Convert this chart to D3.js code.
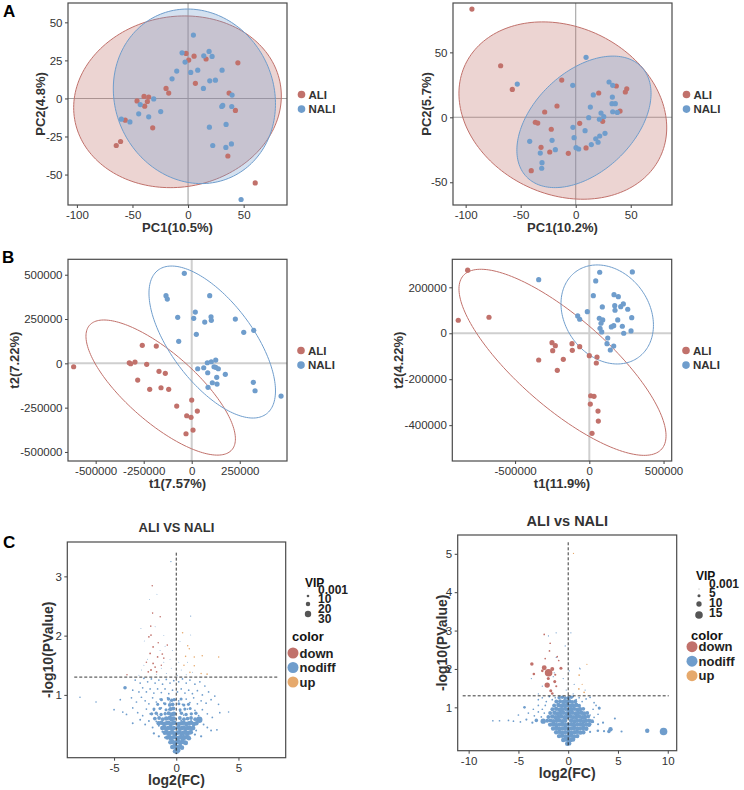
<!DOCTYPE html>
<html>
<head>
<meta charset="utf-8">
<script src="https://cdn.jsdelivr.net/npm/d3@7"></script>
<style>
body { margin: 0; background: #fff; }
svg { font-family: "Liberation Sans", Arial, sans-serif; }
</style>
</head>
<body>
<div id="fig"></div>
<script>
var red = "#c1716b", blue = "#6f9dcc", orange = "#e6a96c";
var groups = ["ALI", "NALI"];

// ---- PCA (A) scores ----
var pcaA1ALI = [[-1.8,29.6],[0.6,25.2],[5.4,27.8],[16.2,25.9],[44.8,23.4],[6.6,9.9],[-19.8,6.6],[-17.4,3.5],[-39.6,1.3],[-35.4,0.9],[-45.9,-1.6],[-36.6,-2],[-39,-5.1],[36.9,3.5],[42.6,-7.9],[-31.8,-19.3],[-56.5,-14.3],[-60.7,-28.3],[-64.6,-30.9],[35.8,-37.8],[60.4,-55.5]];
var pcaA1NALI = [[4.8,41.6],[-5.4,30],[-2.7,23.9],[-10.2,18],[-14.4,12.9],[2.4,17.1],[8.7,18.6],[14.1,28],[18.9,30.9],[21.6,27.6],[30.6,18.6],[19.5,11.6],[24.6,12],[13.8,6.6],[39.6,2.2],[31.2,-4.6],[30.3,-5.3],[39.3,-5.3],[34.2,-17.1],[19.2,-18.9],[22.2,-30.9],[34,-32.2],[39,-29.9],[-30.9,-0.3],[-43,-4],[-44.4,-10.1],[-35.4,-12.1],[-24.6,-8.6],[-60,-13.6],[-52.3,-15.4],[47.7,-66.4]];
var pcaA2ALI = [[-94.3,83.3],[-68.2,39.7],[-57.6,21.5],[-12.7,28.7],[-17,8.7],[-28.2,4.1],[-36.7,-3.8],[-34.5,-4.4],[-22.2,-9.2],[3.6,-4.6],[24.5,-3.1],[20.9,18.7],[36.9,24.1],[46.4,22],[45.1,19.5],[40.3,4.8],[-31.5,-23.1],[-23.6,-26.7],[-6.7,-27.7],[9.4,-23.6],[-40.4,-41.1]];
var pcaA2NALI = [[-53.1,25.6],[9.4,46.2],[-2.7,24.6],[16,17.2],[13.3,7.9],[30.3,27.2],[33.6,24.6],[33.3,15.6],[33,10.5],[36,10.5],[33.6,4.3],[37.8,3.8],[23,3.3],[25.5,0.5],[21.5,-1.5],[11.8,-0.3],[-2.5,-7.7],[8.5,-10.3],[-1.5,-15.7],[26.6,-12.3],[18.2,-16.5],[21.8,-14.4],[20.3,-19.2],[14.2,-21],[0.3,-23.4],[2.7,-24.4],[-21.5,-17.7],[-18.5,-24.9],[-41.8,-18.5],[-32.2,-27.5],[-30.6,-34.9],[-30.9,-39.2]];

// ---- OPLS-DA (B) scores ----
var plsB1ALI = [[-614600,-19200],[-257300,101600],[-184400,97600],[-325000,3400],[-317700,-2300],[-295300,7300],[-234400,-5600],[-281200,-94200],[-218700,-146700],[-170300,-45100],[-137500,-56400],[-159900,-137700],[-119800,-146700],[-78100,-240900],[0,-207100],[-26000,-295700],[-3600,-304700],[29200,-269200],[-29700,-397300],[6800,-376400]];
var plsB1NALI = [[-38500,508000],[-133800,381500],[-127000,362800],[-72900,259600],[-67700,124100],[10400,253900],[18700,289500],[93700,381500],[67700,233000],[100500,263000],[102100,242600],[227100,250000],[270800,174900],[322900,186200],[24000,163600],[31200,-30500],[62500,-24800],[81200,3400],[102100,9000],[125000,18600],[116100,-19200],[125000,-22600],[138500,-30500],[83300,-53000],[130200,-79000],[175000,-62100],[107300,-109500],[131800,-116800],[84900,-135400],[320800,-107200],[329700,-154600],[465100,-184500]];
var plsB2ALI = [[-819500,274500],[-882800,56600],[-675900,69700],[-251400,-41000],[-229100,-54000],[-246600,-75800],[-341000,-116300],[-215700,-161200],[-175200,-113300],[-116600,-45300],[-114600,-74100],[-64700,-58400],[0,-97600],[51900,-103300],[47200,-129400],[9400,-271900],[31700,-274500],[6700,-308000],[58600,-338500],[60700,-382100],[18200,-435700]];
var plsB2NALI = [[-341000,233500],[70100,265700],[289800,267100],[43100,227900],[27000,163800],[166500,168200],[195400,159500],[87600,114600],[-13500,94100],[171200,120300],[173200,100200],[211600,115900],[229100,127700],[258800,104600],[285700,68000],[-78200,75400],[-64700,61000],[67400,65400],[90300,58000],[78800,43600],[191400,58000],[72100,21800],[83600,5700],[148300,27500],[164400,33100],[222400,30500],[231800,0],[281000,10000],[124000,-20500],[119300,-45300],[164400,-55300],[141500,-72800]];

// confidence ellipses: centre x, centre y, then two conjugate semi-axis vectors
var ellA1 = [[-9.5,-2.2,92.5,11.6,12.9,-55.2],[5.7,1.4,32.9,-53.2,-65.1,-21.4]];
var ellA2 = [[-11.7,5.2,88.6,-35.5,-32.6,-58.3],[7.5,-3.5,52.2,42.3,31.5,-27.8]];
var ellB1 = [[-161500,-136600,370300,-351600,-119100,-147300],[106800,120200,281800,-405700,-170300,-138800]];
var ellB2 = [[-180600,-126400,668500,-377300,-198800,-147300],[120600,81900,210900,-186500,-229100,-108100]];

// ---- volcano (C): [log2FC, -log10P, VIP] ----
var volC1Nodiff = [[-0.43,3.25,3],[-1.55,2.7,1],[-2.14,2.61,1],[1.16,2.33,2],[-2.84,2.12,1],[-1.7,2.15,1],[-1.0,2.0,1],[1.16,2.01,1],[-2.57,1.91,1],[-0.9,1.82,1],[-1.3,1.75,1],[-0.3,1.75,1],[0.3,1.9,1],[-2.3,1.6,1],[-2.6,1.5,1],[-1.0,1.55,1],[-0.5,1.6,1],[0.2,1.55,1],[0.9,1.55,1],[-2.8,1.42,1],[-1.2,1.45,1],[-0.4,1.45,1],[0.4,1.42,1],[1.3,1.38,1],[-3.0,1.33,1],[-1.6,1.35,1],[-0.8,1.36,1],[0.1,1.33,1],[0.8,1.34,1],
  [-3.3,1.25,5],[-2.9,1.2,5],[-2.6,1.28,5],[-2.3,1.22,5],[-2.0,1.27,5],[-1.7,1.2,5],[-1.4,1.25,5],[-1.1,1.18,5],[-0.8,1.26,5],[-0.5,1.2,5],[-0.2,1.24,5],[0.2,1.22,5],[0.5,1.27,5],[0.8,1.2,5],[1.1,1.25,5],[1.5,1.18,5],[1.9,1.22,5],[2.3,1.15,5],
  [-3.5,1.08,5],[-3.0,1.05,5],[-2.7,1.12,5],[-2.4,1.05,5],[-2.1,1.1,5],[-1.8,1.03,5],[-1.5,1.1,5],[-1.2,1.04,5],[-0.9,1.1,5],[-0.6,1.02,5],[-0.3,1.08,5],[0.1,1.05,5],[0.4,1.1,5],[0.7,1.03,5],[1.0,1.08,5],[1.3,1.02,5],[1.7,1.07,5],[2.1,1.0,5],[2.6,1.05,5],[3.1,0.98,5],
  [-4.5,0.92,5],[-3.6,0.95,5],[-3.2,0.88,5],[-2.8,0.96,5],[-2.5,0.9,5],[-2.2,0.85,5],[-1.9,0.95,5],[-1.6,0.88,5],[-1.3,0.93,5],[-1.0,0.86,5],[-0.7,0.95,5],[-0.5,0.88,5],[-0.2,0.92,5],[0.2,0.9,5],[0.5,0.84,5],[0.8,0.93,5],[1.1,0.87,5],[1.4,0.95,5],[1.7,0.85,5],[2.0,0.9,5],[2.4,0.86,5],[2.8,0.92,5],[3.4,0.84,5],
  [-7.74,0.96,4],[-6.45,0.88,4],[-5.0,0.75,5],[-4.3,0.71,5],[-4.0,0.67,5],[-3.5,0.78,5],[-3.1,0.7,5],[-2.7,0.65,5],[-2.4,0.76,5],[-2.1,0.68,5],[-1.8,0.74,5],[-1.5,0.66,5],[-1.2,0.78,5],[-0.9,0.7,5],[-0.6,0.75,5],[-0.3,0.68,5],[0.3,0.72,5],[0.6,0.66,5],[0.9,0.76,5],[1.2,0.68,5],[1.5,0.74,5],[1.8,0.65,5],[2.1,0.75,5],[2.5,0.68,5],[2.9,0.62,5],[3.5,0.7,5],[4.21,0.71,4],
  [-3.5,0.52,6],[-2.9,0.58,6],[-2.5,0.5,6],[-2.2,0.56,6],[-1.9,0.45,6],[-1.6,0.55,6],[-1.4,0.48,6],[-1.1,0.58,6],[-0.9,0.44,6],[-0.6,0.52,6],[-0.4,0.58,6],[-0.2,0.45,6],[0.2,0.5,6],[0.4,0.57,6],[0.6,0.45,6],[0.8,0.53,6],[1.0,0.42,6],[1.2,0.56,6],[1.4,0.48,6],[1.6,0.4,6],[2.2,0.5,6],[2.5,0.45,6],[2.8,0.4,6],[3.27,0.41,6],
  [-1.8,0.35,8],[-1.4,0.3,8],[-1.1,0.38,8],[-0.9,0.28,8],[-0.7,0.34,8],[-0.5,0.25,8],[-0.35,0.38,8],[-0.2,0.3,8],[0.15,0.28,8],[0.3,0.36,8],[0.45,0.25,8],[0.6,0.32,8],[0.8,0.38,8],[1.0,0.3,8],[1.2,0.36,8],[1.5,0.33,8],[2.0,0.3,8],
  [-0.1,0.05,20],[0.04,0.04,20],[0.16,0.06,20],
  [-0.32,0.12,20],[-0.16,0.13,20],[0.02,0.11,20],[0.17,0.12,20],[0.31,0.13,20],[0.46,0.11,20],
  [-0.47,0.2,20],[-0.31,0.21,20],[-0.14,0.19,20],[0.03,0.2,20],[0.16,0.21,20],[0.32,0.19,20],[0.47,0.21,20],[0.62,0.2,20],[0.77,0.19,20],
  [-0.72,0.28,20],[-0.56,0.29,20],[-0.41,0.27,20],[-0.26,0.28,20],[-0.09,0.29,20],[0.11,0.27,20],[0.26,0.28,20],[0.41,0.29,20],[0.56,0.27,20],[0.71,0.28,20],[0.87,0.29,20],[1.02,0.27,20],
  [-0.92,0.36,20],[-0.77,0.37,20],[-0.61,0.35,20],[-0.46,0.36,20],[-0.31,0.37,20],[-0.16,0.35,20],[0.09,0.36,20],[0.24,0.37,20],[0.41,0.35,20],[0.56,0.36,20],[0.71,0.37,20],[0.86,0.35,20],[1.01,0.36,20],[1.17,0.37,20],
  [-1.12,0.44,20],[-0.96,0.45,20],[-0.81,0.43,20],[-0.64,0.44,20],[-0.49,0.45,20],[-0.34,0.43,20],[-0.19,0.44,20],[0.16,0.45,20],[0.31,0.43,20],[0.46,0.44,20],[0.61,0.45,20],[0.76,0.43,20],[0.91,0.44,20],[1.06,0.45,20],[1.21,0.43,20],[1.36,0.44,20],
  [-1.41,0.52,20],[-1.19,0.53,20],[-0.98,0.51,20],[-0.79,0.52,20],[-0.61,0.53,20],[-0.44,0.51,20],[-0.29,0.52,20],[-0.14,0.53,20],[0.21,0.51,20],[0.42,0.52,20],[0.59,0.53,20],[0.81,0.51,20],[1.02,0.52,20],[1.19,0.53,20],[1.41,0.51,20],[1.62,0.52,20],
  [-1.72,0.6,16],[-1.38,0.61,16],[-1.09,0.59,16],[-0.81,0.6,20],[-0.52,0.61,20],[-0.36,0.59,20],[-0.21,0.6,20],[0.29,0.61,16],[0.62,0.59,16],[0.91,0.6,16],[1.19,0.61,16],[1.52,0.59,16],
  [-1.98,0.68,14],[-1.61,0.69,14],[-1.22,0.67,14],[-0.89,0.68,14],[-0.61,0.69,18],[-0.39,0.67,20],[-0.19,0.68,20],[0.42,0.69,14],[0.79,0.67,14],[1.21,0.68,14],[1.58,0.69,14],
  [-1.79,0.76,12],[-1.31,0.77,12],[-0.82,0.75,12],[-0.46,0.76,18],[-0.24,0.77,18],[0.31,0.75,12],[0.69,0.76,12],[1.12,0.77,12],
  [-1.49,0.84,12],[-0.91,0.85,12],[-0.52,0.83,16],[-0.29,0.84,16],[0.21,0.85,12],[0.61,0.83,12],[0.98,0.84,12],
  [-1.19,0.92,12],[-0.62,0.93,14],[-0.36,0.91,14],[-0.16,0.92,14],[0.39,0.93,12],
  [-4.12,1.12,15],[1.85,0.58,30]];
var volC1Down = [[-1.93,2.84,4],[-1.9,2.38,4],[-1.29,2.32,4],[-2.05,2.16,4],[-2.03,2.01,5],[-2.2,1.98,5],[-1.86,1.81,5],[-0.72,1.84,4],[-1.5,1.64,5],[-1.12,1.69,5],[-1.86,1.53,5],[-2.03,1.42,6],[-1.58,1.39,5],[-2.25,1.39,5],[-3.96,1.34,4],[-1.2,1.5,4],[-2.4,1.55,4],[-1.7,1.47,5],[-1.0,1.62,4],[-1.45,1.88,4],[-2.1,1.7,5]];
var volC1Up = [[0.51,2.05,4],[0.92,1.83,4],[1.05,1.78,4],[0.75,1.65,4],[1.45,1.64,4],[2.09,1.66,4],[3.41,1.64,4],[0.62,1.5,4],[1.45,1.49,4],[2.0,1.36,4],[2.48,1.35,4],[1.1,1.38,4]];

var volC2Nodiff = [[-1.98,2.86,1],[-1.21,2.94,1],[0.27,2.94,1],[-1.2,2.3,1],[-0.3,2.6,1],[1.2,2.0,1],[1.14,2.02,1],[0.1,1.95,1],[-1.5,1.8,1],[-0.5,1.75,1],[0.6,1.6,1],[-2.6,1.55,1],[-0.2,1.45,1],[1.7,1.45,1],[-3.0,1.35,1],[0.5,1.35,1],[-1.4,1.9,1],[-3.7,1.75,1],
  [-3.0,1.2,2],[-2.6,1.25,2],[-2.2,1.15,2],[-1.9,1.28,2],[-1.6,1.2,2],[-1.3,1.25,2],[-1.0,1.15,2],[-0.7,1.27,2],[-0.4,1.2,2],[-0.1,1.25,2],[0.2,1.15,2],[0.5,1.28,2],[0.8,1.2,2],[1.1,1.25,2],[1.4,1.15,2],[1.8,1.22,2],[2.2,1.26,2],[2.6,1.12,2],
  [-4.39,1.0,4],[-3.5,0.95,2],[-3.0,1.05,2],[-2.6,0.95,2],[-2.3,1.05,2],[2.5,0.95,2],[3.12,0.98,5],[2.8,1.05,2],
  [-5.0,0.8,2],[-4.0,0.85,2],[-3.4,0.78,2],[-3.0,0.88,2],[-2.7,0.75,2],[-2.4,0.85,2],[2.2,0.8,2],[2.6,0.74,2],[3.0,0.82,2],[4.69,0.71,3],
  [-7.57,0.65,2],[-6.9,0.65,2],[-6.0,0.66,2],[-5.5,0.64,2],[-4.8,0.62,2],[-4.2,0.68,3],[-3.6,0.6,3],[-3.2,0.66,6],[-2.51,0.64,10],[2.08,0.54,7],[2.5,0.62,3],[3.0,0.56,3],[3.5,0.6,3],
  [2.2,0.36,3],[2.98,0.39,4],[3.6,0.38,3],[4.25,0.43,8],[4.09,0.37,6],[5.36,0.37,3],[7.94,0.39,8],[9.58,0.37,15],
  [-0.1,0.05,8],[0.1,0.06,8],
  [-0.5,0.15,8],[-0.24,0.16,8],[0.02,0.14,8],[0.26,0.15,8],[0.49,0.16,8],
  [-0.92,0.25,8],[-0.61,0.26,8],[-0.29,0.24,8],[0.01,0.25,8],[0.31,0.26,8],[0.59,0.24,8],[0.91,0.25,8],
  [-1.21,0.35,8],[-0.89,0.36,8],[-0.62,0.34,8],[-0.31,0.35,8],[0.02,0.36,8],[0.29,0.34,8],[0.61,0.35,8],[0.88,0.36,8],[1.21,0.34,8],[1.52,0.35,8],
  [-1.52,0.45,8],[-1.19,0.46,8],[-0.91,0.44,8],[-0.59,0.45,8],[-0.31,0.46,8],[0.01,0.44,8],[0.32,0.45,8],[0.59,0.46,8],[0.91,0.44,8],[1.19,0.45,8],[1.51,0.46,8],[1.82,0.44,8],
  [-1.81,0.55,8],[-1.49,0.56,8],[-1.21,0.54,8],[-0.89,0.55,8],[-0.61,0.56,8],[-0.29,0.54,8],[0.02,0.55,8],[0.31,0.56,8],[0.59,0.54,8],[0.91,0.55,8],[1.22,0.56,8],[1.49,0.54,8],[1.81,0.55,8],[2.12,0.56,8],
  [-2.11,0.65,7],[-1.79,0.66,7],[-1.51,0.64,8],[-1.19,0.65,8],[-0.91,0.66,8],[-0.59,0.64,8],[-0.31,0.65,8],[0.29,0.66,8],[0.61,0.64,8],[0.89,0.65,8],[1.21,0.66,8],[1.52,0.64,8],[1.79,0.65,8],[2.11,0.66,7],[2.39,0.64,7],
  [-1.99,0.75,7],[-1.61,0.76,8],[-1.29,0.74,8],[-0.99,0.75,8],[-0.71,0.76,8],[-0.39,0.74,8],[-0.11,0.75,8],[0.21,0.76,8],[0.49,0.74,8],[0.81,0.75,8],[1.09,0.76,8],[1.41,0.74,8],[1.69,0.75,8],[2.01,0.76,7],
  [-1.81,0.85,7],[-1.39,0.86,8],[-1.11,0.84,8],[-0.79,0.85,8],[-0.51,0.86,8],[-0.19,0.84,8],[0.11,0.85,8],[0.39,0.86,8],[0.71,0.84,8],[0.99,0.85,8],[1.31,0.86,8],[1.59,0.84,8],[1.91,0.85,7],
  [-1.59,0.95,7],[-1.21,0.96,8],[-0.89,0.94,8],[-0.61,0.95,8],[-0.29,0.96,8],[0.01,0.94,8],[0.31,0.95,8],[0.59,0.96,8],[0.91,0.94,8],[1.19,0.95,8],[1.51,0.96,7],
  [-1.41,1.05,7],[-0.99,1.06,8],[-0.71,1.04,8],[-0.39,1.05,8],[-0.11,1.06,8],[0.21,1.04,8],[0.49,1.05,8],[0.81,1.06,8],[1.09,1.04,7],
  [-1.19,1.15,7],[-0.81,1.16,7],[-0.49,1.14,8],[-0.21,1.15,8],[0.11,1.16,8],[0.39,1.14,7],[0.71,1.15,7],
  [-0.91,1.25,6],[-0.59,1.26,6],[-0.29,1.24,6],[0.02,1.25,6],[0.31,1.26,6]];
var volC2Down = [[-2.41,2.9,2],[-1.81,2.67,2],[-1.88,2.47,2],[-1.1,2.32,2],[-0.95,2.22,2],[-2.31,2.27,2],[-3.65,2.13,6],[-2.41,2.03,9],[-1.97,1.9,15],[-1.6,2.0,7],[-0.73,2.02,5],[-3.45,1.87,4],[-2.11,1.58,10],[-1.35,1.67,5],[-1.75,1.43,5],[-1.6,1.36,4],[-1.2,1.55,3],[-2.0,1.75,5],[-1.3,1.85,3],[-2.6,1.95,4]];
var volC2Up = [[0.53,5.01,1],[1.88,2.12,1],[1.1,1.84,2],[1.07,1.48,2],[1.6,1.39,2],[1.4,1.6,1]];

var vipC1 = [0.001, 10, 20, 30];
var vipC2 = [0.001, 5, 10, 15];
var colorKeys = ["down", "nodiff", "up"];

var svg = d3.select("#fig").append("svg")
    .attr("width", 744)
    .attr("height", 790);

var clipN = 0;
function panel(p) {
    var x = d3.scaleLinear().domain(p.xd).range([p.box[0], p.box[1]]);
    var y = d3.scaleLinear().domain(p.yd).range([p.box[3], p.box[2]]);
    clipN++;
    svg.append("clipPath").attr("id", "clip" + clipN)
      .append("rect")
        .attr("x", p.box[0]).attr("y", p.box[2])
        .attr("width", p.box[1] - p.box[0]).attr("height", p.box[3] - p.box[2]);
    var g = svg.append("g").attr("clip-path", "url(#clip" + clipN + ")");

    var fmt = function(d) { return String(d); };
    var ax = svg.append("g")
        .attr("transform", "translate(0," + p.box[3] + ")")
        .call(d3.axisBottom(x).tickValues(p.xt).tickSize(3).tickPadding(3).tickFormat(fmt));
    var ay = svg.append("g")
        .attr("transform", "translate(" + p.box[0] + ",0)")
        .call(d3.axisLeft(y).tickValues(p.yt).tickSize(3).tickPadding(2.5).tickFormat(fmt));
    [ax, ay].forEach(function(a) {
        a.select(".domain").remove();
        a.selectAll("line").attr("stroke", "#444");
        a.selectAll("text").attr("fill", "#333").style("font-size", "11.5px").style("font-family", "Liberation Sans, Arial");
    });

    svg.append("text")
        .attr("x", (p.box[0] + p.box[1]) / 2)
        .attr("y", p.xlab[1])
        .attr("text-anchor", "middle")
        .style("font-size", p.labSize).style("font-weight", "bold").attr("fill", "#333")
        .text(p.xlab[0]);
    svg.append("text")
        .attr("transform", "translate(" + p.ylab[1] + "," + (p.box[2] + p.box[3]) / 2 + ") rotate(-90)")
        .attr("text-anchor", "middle")
        .style("font-size", p.labSize).style("font-weight", "bold").attr("fill", "#333")
        .text(p.ylab[0]);
    return {x: x, y: y, g: g, box: p.box};
}

function frame(P) {
    svg.append("rect")
        .attr("x", P.box[0]).attr("y", P.box[2])
        .attr("width", P.box[1] - P.box[0]).attr("height", P.box[3] - P.box[2])
        .attr("fill", "none").attr("stroke", "#4a4a4a").attr("stroke-width", 1.2);
}

function ellipse(P, e) {
    var pts = d3.range(0, 2 * Math.PI, Math.PI / 90).map(function(t) {
        return [P.x(e[0] + e[2] * Math.cos(t) + e[4] * Math.sin(t)),
                P.y(e[1] + e[3] * Math.cos(t) + e[5] * Math.sin(t))];
    });
    return d3.line().curve(d3.curveLinearClosed)(pts);
}

function scorePlot(p, ali, nali, ells, filled, zeroStyle) {
    var P = panel(p);
    P.g.append("line").attr("x1", P.x(0)).attr("x2", P.x(0)).attr("y1", p.box[2]).attr("y2", p.box[3])
        .attr("stroke", zeroStyle[0]).attr("stroke-width", zeroStyle[1]);
    P.g.append("line").attr("y1", P.y(0)).attr("y2", P.y(0)).attr("x1", p.box[0]).attr("x2", p.box[1])
        .attr("stroke", zeroStyle[0]).attr("stroke-width", zeroStyle[1]);
    [red, blue].forEach(function(c, i) {
        P.g.append("path")
            .attr("d", ellipse(P, ells[i]))
            .attr("fill", filled ? c : "none")
            .attr("fill-opacity", 0.3)
            .attr("stroke", c).attr("stroke-width", 1);
    });
    [[ali, red], [nali, blue]].forEach(function(s) {
        P.g.selectAll(null).data(s[0]).enter().append("circle")
            .attr("cx", function(d) { return P.x(d[0]); })
            .attr("cy", function(d) { return P.y(d[1]); })
            .attr("r", 2.6)
            .attr("fill", s[1]);
    });
    frame(P);
    // legend
    groups.forEach(function(gname, i) {
        svg.append("circle").attr("cx", p.leg[0]).attr("cy", p.leg[1] + i * 14.6).attr("r", 3.8)
            .attr("fill", i ? blue : red);
        svg.append("text").attr("x", p.leg[0] + 7).attr("y", p.leg[1] + i * 14.6 + 4)
            .style("font-size", "11.5px").style("font-weight", "bold").attr("fill", "#333")
            .text(gname);
    });
}

scorePlot({xd: [-108, 89], yd: [-70, 62.7], box: [68, 287, 3, 205],
    xt: [-100, -50, 0, 50], yt: [-50, -25, 0, 25, 50], labSize: "13px",
    xlab: ["PC1(10.5%)", 232], ylab: ["PC2(4.8%)", 45], leg: [301.5, 94.5]},
    pcaA1ALI, pcaA1NALI, ellA1, true, ["#a3a3a3", 1.1]);
scorePlot({xd: [-111.5, 87.5], yd: [-67.5, 88], box: [453, 672, 3, 205],
    xt: [-100, -50, 0, 50], yt: [-50, 0, 50], labSize: "13px",
    xlab: ["PC1(10.2%)", 232], ylab: ["PC2(5.7%)", 431], leg: [686.5, 94.5]},
    pcaA2ALI, pcaA2NALI, ellA2, true, ["#a3a3a3", 1.1]);
scorePlot({xd: [-644000, 496000], yd: [-551000, 587000], box: [68, 287, 259.3, 461],
    xt: [-500000, -250000, 0, 250000], yt: [-500000, -250000, 0, 250000, 500000], labSize: "13px",
    xlab: ["t1(7.57%)", 488], ylab: ["t2(7.22%)", 19], leg: [301, 350.5]},
    plsB1ALI, plsB1NALI, ellB1, false, ["#cfcfcf", 2]);
scorePlot({xd: [-923000, 555000], yd: [-556000, 322000], box: [452.3, 671.7, 259.3, 461],
    xt: [-500000, 0, 500000], yt: [-400000, -200000, 0, 200000], labSize: "13px",
    xlab: ["t1(11.9%)", 488], ylab: ["t2(4.22%)", 403], leg: [686, 350.5]},
    plsB2ALI, plsB2NALI, ellB2, false, ["#cfcfcf", 2]);

function volcano(p, nod, down, up, vips, vipR) {
    var P = panel(p);
    var r = d3.scaleLinear().domain([0, vips[3]]).range(vipR);
    [[nod, blue], [down, red], [up, orange]].forEach(function(s) {
        P.g.selectAll(null).data(s[0]).enter().append("circle")
            .attr("cx", function(d) { return P.x(d[0]); })
            .attr("cy", function(d) { return P.y(d[1]); })
            .attr("r", function(d) { return r(d[2]); })
            .attr("fill", s[1]);
    });
    var dash = function(sel) { return sel.attr("stroke", "#222").attr("stroke-width", 0.9).attr("stroke-dasharray", "3,2"); };
    dash(svg.append("line").attr("x1", P.x(0)).attr("x2", P.x(0)).attr("y1", P.y(p.vline)).attr("y2", P.y(0)));
    dash(svg.append("line").attr("x1", P.x(p.hline[0])).attr("x2", P.x(p.hline[1]))
        .attr("y1", P.y(1.3)).attr("y2", P.y(1.3)));
    frame(P);
    svg.append("text").attr("x", p.title[1]).attr("y", p.title[2]).attr("text-anchor", "middle")
        .style("font-size", p.title[3]).style("font-weight", "bold").attr("fill", "#333").text(p.title[0]);

    // size legend
    var L = p.vipLeg;
    svg.append("text").attr("x", L[0]).attr("y", L[1]).style("font-size", "12px").style("font-weight", "bold")
        .attr("fill", "#111").text("VIP");
    vips.forEach(function(v, i) {
        svg.append("circle").attr("cx", L[0] + 3).attr("cy", L[2][i]).attr("r", r(v)).attr("fill", "#555");
        svg.append("text").attr("x", L[0] + 13).attr("y", L[3][i]).style("font-size", "12px")
            .style("font-weight", "bold").attr("fill", "#222").text(String(v));
    });
    // colour legend
    var C = p.colLeg;
    svg.append("text").attr("x", C[0]).attr("y", C[1]).style("font-size", "13px").style("font-weight", "bold")
        .attr("fill", "#111").text("color");
    colorKeys.forEach(function(k, i) {
        svg.append("circle").attr("cx", C[0] + 1).attr("cy", C[2] + i * 14.5).attr("r", 5.5)
            .attr("fill", [red, blue, orange][i]);
        svg.append("text").attr("x", C[0] + 7.5).attr("y", C[2] + i * 14.5 + 4.5)
            .style("font-size", "13px").style("font-weight", "bold").attr("fill", "#222").text(k);
    });
}

volcano({xd: [-8.76, 8.8], yd: [-0.06, 3.58], box: [67.3, 285.7, 542, 757.7],
    xt: [-5, 0, 5], yt: [1, 2, 3], labSize: "14px",
    xlab: ["log2(FC)", 785], ylab: ["-log10(PValue)", 53],
    vline: 3.4, hline: [-8.2, 8.2], title: ["ALI VS NALI", 176.5, 532, "13px"],
    vipLeg: [305, 587, [588, 596, 604, 614], [594, 603, 613, 623]],
    colLeg: [292, 641, 653]},
    volC1Nodiff, volC1Down, volC1Up, vipC1, [0.4, 3.2]);

volcano({xd: [-11.1, 10.9], yd: [-0.13, 5.49], box: [457.7, 676.7, 535, 750.7],
    xt: [-10, -5, 0, 5, 10], yt: [1, 2, 3, 4, 5], labSize: "14px",
    xlab: ["log2(FC)", 778], ylab: ["-log10(PValue)", 447],
    vline: 5.3, hline: [-10.6, 10.1], title: ["ALI vs NALI", 567.3, 526, "14.5px"],
    vipLeg: [696, 580, [589, 595.7, 604, 615], [588, 597, 606.5, 617]],
    colLeg: [691, 640, 646.7]},
    volC2Nodiff, volC2Down, volC2Up, vipC2, [0.4, 3.8]);

// panel letters
[["A", 3, 17], ["B", 2, 263], ["C", 3, 548]].forEach(function(l) {
    svg.append("text").attr("x", l[1]).attr("y", l[2])
        .style("font-size", "17px").style("font-weight", "bold").attr("fill", "#000").text(l[0]);
});
</script>
</body>
</html>
